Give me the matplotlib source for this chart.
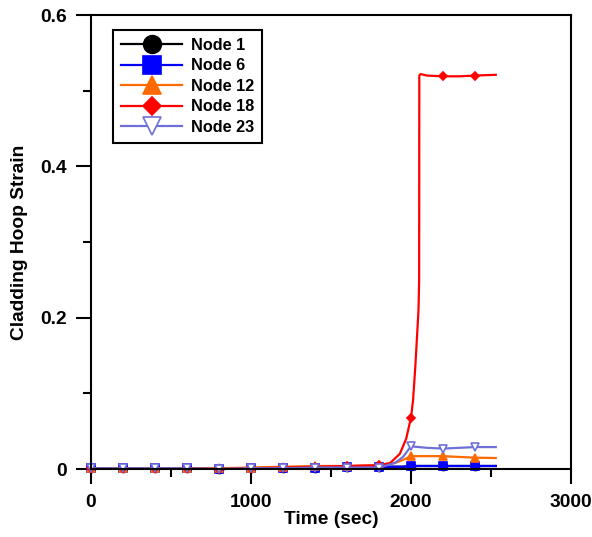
import matplotlib
matplotlib.use("Agg")
import matplotlib.pyplot as plt
from matplotlib.ticker import MultipleLocator

plt.rcParams['font.family'] = ['Liberation Sans', 'DejaVu Sans']
plt.rcParams['font.weight'] = 'bold'

# Data
t = [0, 200, 400, 600, 800, 1000, 1200, 1400, 1600, 1800, 1900, 1950,
     2000, 2100, 2200, 2300, 2400, 2530]
node1 = [0.001, 0.001, 0.001, 0.001, 0.000, 0.001, 0.002, 0.002, 0.003, 0.003,
         0.003, 0.003, 0.004, 0.004, 0.004, 0.004, 0.004, 0.004]
node6 = [0.001, 0.001, 0.001, 0.001, 0.000, 0.001, 0.002, 0.002, 0.003, 0.003,
         0.003, 0.003, 0.004, 0.004, 0.004, 0.004, 0.004, 0.004]
node12 = [0.001, 0.001, 0.001, 0.001, 0.001, 0.002, 0.003, 0.004, 0.004, 0.005,
          0.008, 0.012, 0.017, 0.017, 0.017, 0.016, 0.015, 0.0145]
node23 = [0.001, 0.001, 0.001, 0.001, 0.000, 0.001, 0.001, 0.002, 0.002, 0.002,
          0.008, 0.016, 0.030, 0.028, 0.027, 0.028, 0.029, 0.029]
t18 = [0, 200, 400, 600, 800, 1000, 1200, 1400, 1600, 1800, 1870, 1930, 1970,
       2000, 2013, 2027, 2039, 2047, 2051, 2052, 2060, 2100, 2200, 2300, 2400, 2530]
node18 = [0.001, 0.001, 0.001, 0.001, 0.000, 0.001, 0.002, 0.003, 0.004, 0.005,
          0.008, 0.020, 0.040, 0.068, 0.091, 0.135, 0.180, 0.210, 0.250, 0.520,
          0.522, 0.520, 0.519, 0.519, 0.520, 0.521]
marker_times = list(range(0, 2401, 200))

labels = ['Node 1', 'Node 6', 'Node 12', 'Node 18', 'Node 23']
colors = ['#000000', '#0000FF', '#FF6A00', '#FF0000', '#6F6FD8']

fig = plt.figure(figsize=(5.92, 5.37), dpi=100)
ax = fig.add_axes([0.1537, 0.1266, 0.8108, 0.8454])

def mk(ts):
    return [i for i, v in enumerate(ts) if v in marker_times]

series = [
    (t, node1, 'o', colors[0], colors[0], 5.8),
    (t, node6, 's', colors[1], colors[1], 6.2),
    (t, node12, '^', colors[2], colors[2], 6.0),
    (t18, node18, 'D', colors[3], colors[3], 4.2),
    (t, node23, 'v', colors[4], 'white', 6.0),
]
for (xs, ys, m, c, fc, ms), lab in zip(series, labels):
    ax.plot(xs, ys, color=c, lw=1.6, marker=m, markersize=ms,
            markerfacecolor=fc, markeredgecolor=c, markeredgewidth=1.2,
            markevery=mk(xs), label=lab, clip_on=False)

ax.set_xlim(0, 3000)
ax.set_ylim(0, 0.6)
ax.xaxis.set_major_locator(MultipleLocator(1000))
ax.xaxis.set_minor_locator(MultipleLocator(500))
ax.yaxis.set_major_locator(MultipleLocator(0.2))
ax.yaxis.set_minor_locator(MultipleLocator(0.1))
ax.set_xticks([0, 1000, 2000, 3000])
ax.set_xticklabels(['0', '1000', '2000', '3000'])
ax.set_yticks([0, 0.2, 0.4, 0.6])
ax.set_yticklabels(['0', '0.2', '0.4', '0.6'])
ax.tick_params(which='major', direction='out', length=10.8, width=1.5,
               labelsize=13.8)
ax.tick_params(axis='x', which='major', pad=7)
ax.tick_params(axis='y', which='major', pad=6.5)
ax.tick_params(which='minor', direction='out', length=5.5, width=1.5)
for s in ax.spines.values():
    s.set_linewidth(1.5)

ax.set_xlabel('Time (sec)', fontsize=13.8, fontweight='bold', labelpad=0)
ax.set_ylabel('Cladding Hoop Strain', fontsize=13.8, fontweight='bold', labelpad=8.5)

leg = ax.legend(loc='upper left', bbox_to_anchor=(0.045, 0.968), borderaxespad=0,
                fancybox=False, edgecolor='black', framealpha=1, markerscale=2.2,
                prop={'weight': 'bold', 'size': 11.7}, handlelength=3.8,
                labelspacing=0.34, borderpad=0.5, handletextpad=0.5)
leg.get_frame().set_linewidth(1.5)
leg.set_zorder(5)

fig.savefig('out.png', dpi=100)
